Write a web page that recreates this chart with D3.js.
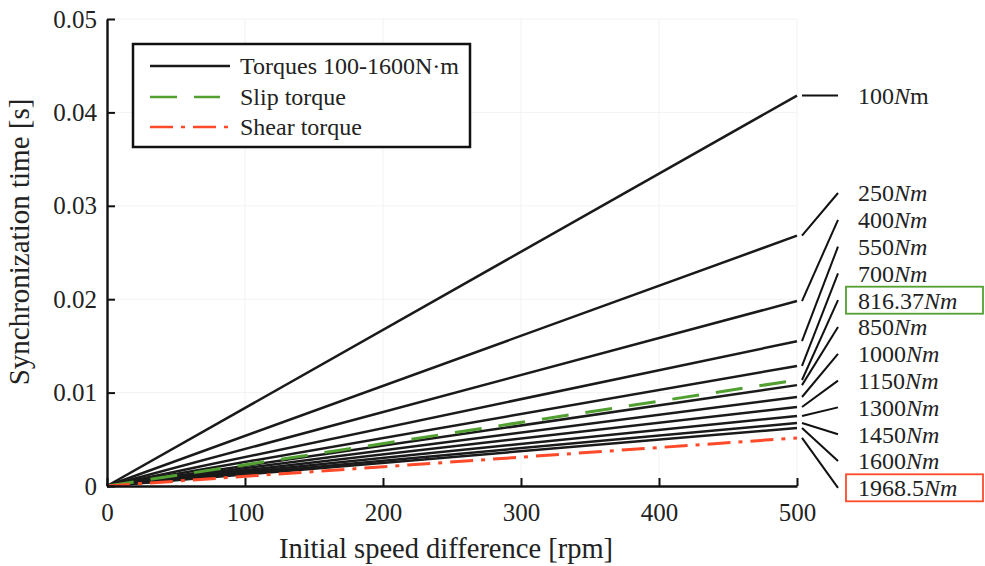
<!DOCTYPE html>
<html><head><meta charset="utf-8">
<script src="https://cdn.jsdelivr.net/npm/d3@7"></script>
<style>
body{margin:0;background:#fff;}
svg text{font-family:"Liberation Serif","Times New Roman",serif;fill:#222;}
</style></head>
<body><svg id="c" width="985" height="566"></svg>
<script>
// ---- data ----
const speedDiff = [0, 500];                       // rpm (lines are straight from origin)
const torqueLabels = ["100","250","400","550","700","816.37","850","1000","1150","1300","1450","1600","1968.5"];
const endTimes = [0.0418,0.0268,0.0198,0.0155,0.01285,0.01135,0.0108,0.00953,0.00846,0.0075,0.00675,0.0062,0.00515]; // s at 500 rpm
const seriesKind = ["torque","torque","torque","torque","torque","slip","torque","torque","torque","torque","torque","torque","shear"];
const xTicks = [0,100,200,300,400,500];
const yTicks = [0,0.01,0.02,0.03,0.04,0.05];
const legendLabels = ["Torques 100-1600N\u00b7m","Slip torque","Shear torque"];
const legendKinds = ["torque","slip","shear"];

// ---- styles ----
const style = {
  torque:{stroke:"#1a1a1a", dash:null, w:2.5},
  slip:{stroke:"#52a032", dash:"27,17", w:3},
  shear:{stroke:"#ff4a2a", dash:"23,8,4,8", w:3}
};

const svg = d3.select("#c");
const x = d3.scaleLinear().domain([0,500]).range([107,797]);
const y = d3.scaleLinear().domain([0,0.05]).range([486,19]);

// faint grid
svg.append("g").selectAll("line").data(xTicks.slice(1)).join("line")
  .attr("x1",d=>x(d)).attr("x2",d=>x(d)).attr("y1",y(0)).attr("y2",y(0.05))
  .attr("stroke","#f2f2f2").attr("stroke-width",1);
svg.append("g").selectAll("line").data(yTicks.slice(1)).join("line")
  .attr("x1",x(0)).attr("x2",x(500)).attr("y1",d=>y(d)).attr("y2",d=>y(d))
  .attr("stroke","#f2f2f2").attr("stroke-width",1);

// series lines
const line = d3.line().x(d=>x(d[0])).y(d=>y(d[1]));
const series = torqueLabels.map((t,i)=>({label:t, kind:seriesKind[i], pts:speedDiff.map(s=>[s, s/500*endTimes[i]])}));
const order = series.filter(s=>s.kind==="torque").concat(series.filter(s=>s.kind!=="torque"));
svg.append("g").selectAll("path").data(order).join("path")
  .attr("d",d=>line(d.pts)).attr("fill","none")
  .attr("stroke",d=>style[d.kind].stroke)
  .attr("stroke-width",d=>style[d.kind].w)
  .attr("stroke-dasharray",d=>style[d.kind].dash);

// axes
const xAxis = svg.append("g").attr("transform",`translate(0,${y(0)})`)
  .call(d3.axisBottom(x).tickValues(xTicks).tickFormat(d3.format("d")).tickSize(-8).tickSizeOuter(0).tickPadding(17));
const yAxis = svg.append("g").attr("transform",`translate(${x(0)},0)`)
  .call(d3.axisLeft(y).tickValues(yTicks).tickFormat(d=>d===0?"0":d3.format(".2f")(d)).tickSize(-8).tickSizeOuter(0).tickPadding(10));
[xAxis,yAxis].forEach(a=>{
  a.select(".domain").attr("stroke","#111").attr("stroke-width",2.4);
  a.selectAll(".tick line").attr("stroke","#111").attr("stroke-width",2);
  a.selectAll(".tick text").attr("font-family","Liberation Serif, serif").attr("font-size",25).attr("fill","#333");
});

// axis titles
svg.append("text").attr("x",446).attr("y",558).attr("text-anchor","middle")
  .attr("font-size",28.5).attr("fill","#333").text("Initial speed difference [rpm]");
svg.append("text").attr("transform","translate(29,242) rotate(-90)").attr("text-anchor","middle")
  .attr("font-size",29).attr("fill","#333").text("Synchronization time [s]");

// right-side labels with leader lines
const labelX0 = 802, labelX1 = 838, textX = 858;
const labelY = series.map((s,i)=> i===0 ? y(endTimes[0]) : 193 + (i-1)*26.8);
svg.append("g").selectAll("line").data(series).join("line")
  .attr("x1",labelX0).attr("y1",d=>y(d.pts[1][1]))
  .attr("x2",labelX1).attr("y2",(d,i)=>labelY[i])
  .attr("stroke","#111").attr("stroke-width",2);
const lt = svg.append("g").selectAll("text").data(series).join("text")
  .attr("x",textX).attr("y",(d,i)=>labelY[i]).attr("dy","0.35em")
  .attr("font-size",24).attr("fill","#222");
lt.append("tspan").text(d=>d.label);
lt.append("tspan").attr("font-style","italic").text("N");
lt.append("tspan").attr("font-style",(d,i)=>i===0?"normal":"italic").text("m");
// boxes for slip & shear labels
series.forEach((s,i)=>{
  if(s.kind==="torque") return;
  svg.append("rect").attr("x",846).attr("y",labelY[i]-13.5).attr("width",137).attr("height",27)
    .attr("fill","none").attr("stroke",style[s.kind].stroke).attr("stroke-width",1.8);
});

// legend
const lg = svg.append("g");
lg.append("rect").attr("x",133).attr("y",44).attr("width",337).attr("height",103)
  .attr("fill","#fff").attr("stroke","#111").attr("stroke-width",2.5);
const rowsY = [66,97,127];
legendKinds.forEach((k,i)=>{
  lg.append("line").attr("x1",150).attr("x2",k==="torque"?230:(k==="slip"?220:228)).attr("y1",rowsY[i]).attr("y2",rowsY[i])
    .attr("stroke",style[k].stroke).attr("stroke-width",2.5).attr("stroke-dasharray",style[k].dash);
  lg.append("text").attr("x",240).attr("y",rowsY[i]).attr("dy","0.33em").attr("font-size",24).attr("fill","#222").text(legendLabels[i]);
});
</script></body></html>
